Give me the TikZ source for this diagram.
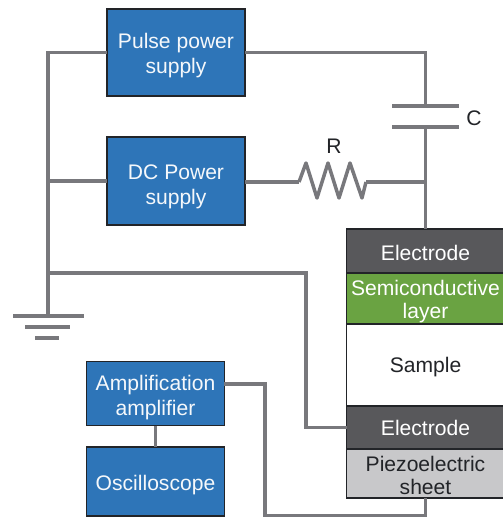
\documentclass[tikz,border=0pt]{standalone}
\usepackage{fontspec}
\setmainfont{Liberation Sans}
\usetikzlibrary{positioning}
\definecolor{hvblue}{RGB}{46,117,184}
\definecolor{hvdark}{RGB}{34,36,40}
\definecolor{hvwire}{RGB}{120,120,124}
\definecolor{hvgray}{RGB}{88,88,91}
\definecolor{hvgreen}{RGB}{106,163,66}
\definecolor{hvlight}{RGB}{200,200,202}
\tikzstyle{unit} = [rectangle, minimum width=2.76cm, minimum height=1.74cm, text centered, align=center, draw=hvdark, fill=hvblue, text=white!95!hvblue, line width=0.7pt, outer sep=0pt, font=\fontsize{12}{14.2}\selectfont]
\tikzstyle{layer} = [rectangle, minimum width=3.16cm, inner xsep=0pt, inner ysep=0pt, text centered, align=center, draw=hvdark, line width=0.7pt, outer sep=0pt, font=\fontsize{12}{13}\selectfont]
\tikzstyle{wire} = [line width=0.07cm, color=hvwire]
\begin{document}
\begin{tikzpicture}[x=0.02cm, y=-0.02cm]
\useasboundingbox (0,0) rectangle (503,517);

% Power supplies
\node[unit, text height=26.3pt] (pulse) at (176,52.5) {Pulse power\\supply};
\node[unit, minimum height=1.76cm, text height=29.7pt] (dc) at (176,181) {DC Power\\supply};

% Measuring units
\node[unit, minimum height=1.26cm, text height=27.4pt] (amp) at (155.5,393.5) {Amplification\\amplifier};
\node[unit, minimum height=1.38cm, text height=12.3pt] (scope) at (155.5,481.5) {Oscilloscope};

% Sample stack
\node[layer, minimum height=0.88cm, fill=hvgray, text=white, text height=11pt] (etop) at (425.5,251) {Electrode};
\node[layer, minimum height=1.02cm, fill=hvgreen, text=white, text height=25.1pt, below=0pt of etop] (semi) {Semiconductive\\layer};
\node[layer, minimum height=1.64cm, fill=white, text=hvdark, text height=11pt, below=0pt of semi] (sample) {Sample};
\node[layer, minimum height=0.86cm, fill=hvgray, text=white, below=0pt of sample] (ebot) {Electrode};
\node[layer, minimum height=0.98cm, fill=hvlight, text=hvdark, text height=24pt, below=0pt of ebot] (piezo) {Piezoelectric\\sheet};

% Junctions
\coordinate (gnd) at (48,316);
\coordinate (platea) at (425.5,106);
\coordinate (plateb) at (425.5,127);
\coordinate (resin) at (299,182);
\coordinate (resout) at (366,182);
\coordinate (tap) at (425.5,182);
\coordinate (split) at (48,273);
\coordinate (bend) at (306,273);
\coordinate (drop) at (265,516);

% Left rail and ground
\draw[wire] (pulse.west) -| (gnd);
\draw[wire] (dc.west) -- (dc.west -| gnd);
\draw[wire] (split) -- (bend) |- (ebot.west);
\draw[wire] (13,316) -- (84,316);
\draw[wire] (25,327) -- (70,327);
\draw[wire] (35,338) -- (59,338);

% Capacitor branch
\draw[wire] (pulse.east) -| (platea);
\draw[wire] (392,106) -- (459,106);
\draw[wire] (392,127) -- (459,127);
\draw[wire] (plateb) -- (etop.north);
\node[font=\fontsize{12}{14}\selectfont, text=hvdark] (clabel) at (474,118) {C};

% Resistor branch
\draw[wire] (dc.east |- resin) -- (resin);
\draw[wire, line join=round] (resin) -- (306,163) -- (317,198) -- (328,163) -- (339,198) -- (350,163) -- (362,198) -- (resout);
\draw[wire] (resout) -- (tap);
\node[font=\fontsize{12}{14}\selectfont, text=hvdark] (rlabel) at (334,146) {R};

% Amplifier connections
\draw[wire] (amp) -- (scope);
\draw[wire] (amp.east |- 0,384) -- (265,384) -- (drop) -| (piezo.south);
\end{tikzpicture}
\end{document}
